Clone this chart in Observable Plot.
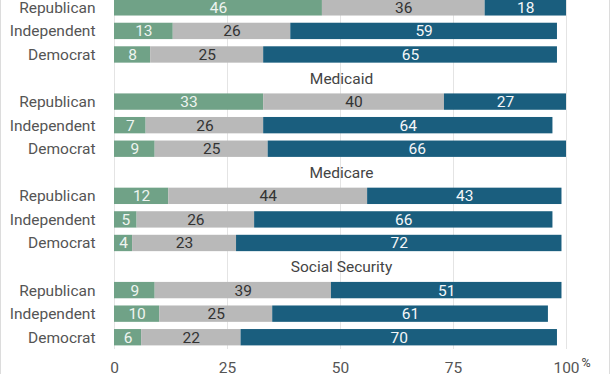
<!DOCTYPE html>
<html>
<head>
<meta charset="utf-8">
<script src="https://cdn.jsdelivr.net/npm/d3@7"></script>
<script src="https://cdn.jsdelivr.net/npm/@observablehq/plot@0.6"></script>
<style>
  html, body { margin: 0; padding: 0; background: #fff; overflow: hidden; }
  #wrap { position: relative; width: 612px; height: 374px; overflow: hidden; }
  #chart svg { display: block; margin-top: -28px; }
  .edge { position: absolute; top: 0; bottom: 0; width: 1px; background: #dcdcdc; }
</style>
</head>
<body>
<div id="wrap">
  <div id="chart"></div>
  <div class="edge" style="left:0"></div>
  <div class="edge" style="left:609px"></div>
</div>
<script>
const programs = ["Affordable Care Act", "Medicaid", "Medicare", "Social Security"];
const parties = ["Republican", "Independent", "Democrat"];
const responses = ["Decrease", "Keep the same", "Increase"];
// values per program, in party order Republican, Independent, Democrat
const decrease = [46, 13, 8, 33, 7, 9, 12, 5, 4, 9, 10, 6];
const keepSame = [36, 26, 25, 40, 26, 25, 44, 26, 23, 39, 25, 22];
const increase = [18, 59, 65, 27, 64, 66, 43, 66, 72, 51, 61, 70];
const xTicks = [0, 25, 50, 75, 100];

const barColor = {"Decrease": "#70a287", "Keep the same": "#b9b9b9", "Increase": "#1a5e7e"};
const textColor = {"Decrease": "#eef4f0", "Keep the same": "#333333", "Increase": "#f4f7f9"};

const series = [decrease, keepSame, increase];
const rows = [];
programs.forEach((p, i) => {
  parties.forEach((q, j) => {
    responses.forEach((r, k) => {
      rows.push({program: p, party: q, key: p + "|" + q, resp: r, value: series[k][i * 3 + j]});
    });
  });
});
// the first panel's heading lies above the visible area in the reference, so only the others are drawn
const titleRows = programs.slice(1).map(p => ({program: p, key: p + "|"}));
const yDomain = programs.flatMap(p => [p + "|", ...parties.map(q => p + "|" + q)]);

const chart = Plot.plot({
  width: 612,
  height: 407,
  marginTop: 0,
  marginBottom: 30,
  marginLeft: 114,
  marginRight: 46,
  style: {fontFamily: "Roboto, 'Noto Sans', sans-serif", fontSize: "15.5px", color: "#555", background: "transparent"},
  x: {domain: [0, 100], ticks: xTicks, tickFormat: d => String(d), tickSize: 0, tickPadding: 12.5, label: null},
  y: {domain: yDomain, padding: 0, round: false, tickSize: 0, tickPadding: 19, tickFormat: k => k.split("|")[1], label: null},
  color: {type: "identity"},
  marks: [
    Plot.ruleX(xTicks, {stroke: "#e4e4e4", strokeWidth: 1}),
    Plot.barX(rows, Plot.stackX({x: "value", y: "key", z: "resp", fill: d => barColor[d.resp], insetTop: 3.6, insetBottom: 3.6})),
    Plot.text(rows, Plot.stackX({x: "value", y: "key", z: "resp", text: d => String(d.value), fill: d => textColor[d.resp], fontSize: 15.5})),
    Plot.text(titleRows, {y: "key", text: "program", frameAnchor: "middle", dx: 1, fill: "#444", fontSize: 15.5}),
    Plot.text([xTicks[xTicks.length - 1]], {x: d => d, text: () => "%", frameAnchor: "bottom", dy: 17, dx: 15, textAnchor: "start", fontSize: 12.5, fill: "#444"})
  ]
});
document.getElementById("chart").appendChild(chart);
</script>
</body>
</html>
